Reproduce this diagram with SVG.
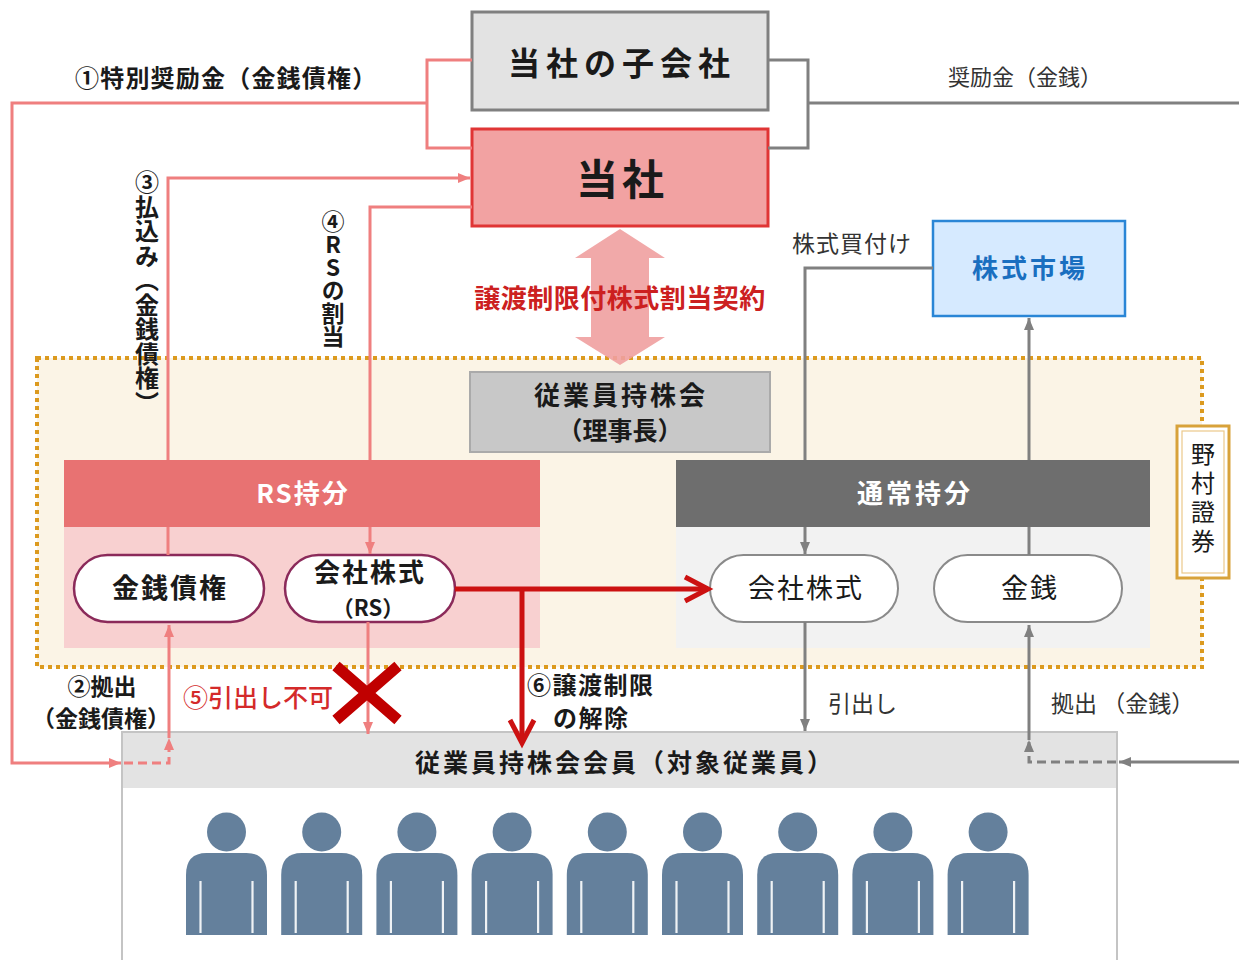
<svg xmlns="http://www.w3.org/2000/svg" width="1239" height="960" viewBox="0 0 1239 960">
<style>
text{font-family:"Noto Sans CJK JP","Noto Sans",sans-serif;fill:#1a1a1a}
.b{font-weight:bold}
.lbl{fill:#333}
.pk{fill:none;stroke:#ef7f7f;stroke-width:3}
.gy{fill:none;stroke:#808080;stroke-width:3}
.dash{stroke-dasharray:9 5}
.red{fill:none;stroke:#cc1111;stroke-width:5}
.pillrs{fill:#fff;stroke:#8b2a5a;stroke-width:2.5}
.pilln{fill:#fff;stroke:#8a8a8a;stroke-width:2}
.wt{fill:#fff;font-weight:bold}
.vt{writing-mode:vertical-rl}
</style>
<defs>
<marker id="ap" markerUnits="userSpaceOnUse" markerWidth="12" markerHeight="10" viewBox="0 0 12 10" refX="12" refY="5" orient="auto"><path d="M0,0 L12,5 L0,10 z" fill="#ef7f7f"/></marker>
<marker id="ag" markerUnits="userSpaceOnUse" markerWidth="12" markerHeight="10" viewBox="0 0 12 10" refX="12" refY="5" orient="auto"><path d="M0,0 L12,5 L0,10 z" fill="#808080"/></marker>
<marker id="ar" markerUnits="userSpaceOnUse" markerWidth="34" markerHeight="34" viewBox="0 0 34 34" refX="27" refY="17" orient="auto" overflow="visible"><path d="M4,5 L27,17 L4,29" fill="none" stroke="#cc1111" stroke-width="5"/></marker>
<g id="person">
<circle cx="0" cy="-21" r="19.5" fill="#64809c"/>
<path d="M-40.5,82 V22 Q-40.5,0 -20,0 H20 Q40.5,0 40.5,22 V82 Z" fill="#64809c"/>
<path d="M-26,28 V80 M26,28 V80" stroke="#fff" stroke-width="2.2" opacity="0.9"/>
</g>
</defs>
<rect width="1239" height="960" fill="#fff"/>

<g id="container-nomura">
<rect x="37" y="358" width="1165" height="309" fill="#fbf4e6" stroke="#dc9a1e" stroke-width="4" stroke-dasharray="4 4"/>
</g>

<g id="node-subsidiary">
<rect x="472" y="12" width="296" height="98" fill="#e3e3e3" stroke="#808080" stroke-width="3"/>
<text x="622" y="75" font-size="32" text-anchor="middle" letter-spacing="6" class="b">当社の子会社</text>
</g>

<g id="node-company">
<rect x="472" y="129" width="296" height="97" fill="#f2a2a2" stroke="#e03535" stroke-width="3"/>
<text x="622" y="195" font-size="42" text-anchor="middle" letter-spacing="4" class="b">当社</text>
</g>

<g id="node-market">
<rect x="933" y="221" width="192" height="95" fill="#d6eaff" stroke="#2a86d6" stroke-width="2.5"/>
<text x="1030" y="278" font-size="26" text-anchor="middle" letter-spacing="3" class="b" style="fill:#1a6fc0">株式市場</text>
</g>

<g id="node-esop">
<rect x="470" y="372" width="300" height="80" fill="#c8c8c8" stroke="#aaaaaa" stroke-width="2"/>
<text x="621" y="405" font-size="26" text-anchor="middle" letter-spacing="3" class="b">従業員持株会</text>
<text x="620" y="440" font-size="25" text-anchor="middle" class="b">（理事長）</text>
</g>

<g id="node-rs-share">
<rect x="64" y="527" width="476" height="121" fill="#f8d0d0"/>
<rect x="64" y="460" width="476" height="67" fill="#e87272"/>
<text x="303" y="503" font-size="26" text-anchor="middle" letter-spacing="2" class="wt">RS持分</text>
</g>

<g id="node-normal-share">
<rect x="676" y="527" width="474" height="121" fill="#f2f2f2"/>
<rect x="676" y="460" width="474" height="67" fill="#6e6e6e"/>
<text x="915" y="503" font-size="26" text-anchor="middle" letter-spacing="3" class="wt">通常持分</text>
</g>

<g id="node-rs-money">
<rect x="74" y="555" width="190" height="67" rx="33.5" class="pillrs"/>
<text x="170" y="598" font-size="27" text-anchor="middle" letter-spacing="2" class="b">金銭債権</text>
</g>

<g id="node-rs-stock">
<rect x="285" y="555" width="170" height="67" rx="33.5" class="pillrs"/>
<text x="370" y="582" font-size="26" text-anchor="middle" letter-spacing="2" class="b">会社株式</text>
<text x="368" y="616" font-size="22" text-anchor="middle" class="b">（RS）</text>
</g>

<g id="node-normal-stock">
<rect x="710" y="555" width="188" height="67" rx="33.5" class="pilln"/>
<text x="806" y="598" font-size="27" text-anchor="middle" letter-spacing="2">会社株式</text>
</g>

<g id="node-normal-money">
<rect x="934" y="555" width="188" height="67" rx="33.5" class="pilln"/>
<text x="1030" y="598" font-size="27" text-anchor="middle" letter-spacing="2">金銭</text>
</g>

<g id="node-nomura">
<rect x="1177" y="426" width="52" height="152" fill="#fff" stroke="#d8a23a" stroke-width="3"/>
<rect x="1182" y="431" width="42" height="142" fill="none" stroke="#ecc98a" stroke-width="1.2"/>
<text x="1203" y="442" font-size="24" letter-spacing="5" class="vt">野村證券</text>
</g>

<g id="node-members">
<rect x="122" y="732" width="995" height="240" fill="#fff" stroke="#c4c4c4" stroke-width="2"/>
<rect x="123" y="733" width="993" height="55" fill="#e3e3e3"/>
<text x="625" y="772" font-size="25" text-anchor="middle" letter-spacing="3" class="b">従業員持株会会員（対象従業員）</text>
<use href="#person" x="226.5" y="853"/>
<use href="#person" x="321.7" y="853"/>
<use href="#person" x="416.9" y="853"/>
<use href="#person" x="512.1" y="853"/>
<use href="#person" x="607.3" y="853"/>
<use href="#person" x="702.5" y="853"/>
<use href="#person" x="797.7" y="853"/>
<use href="#person" x="892.9" y="853"/>
<use href="#person" x="988.1" y="853"/>
</g>

<g id="connectors">
<polygon points="620,229 665,258 649,258 649,337 665,337 620,365 575,337 591,337 591,258 575,258" fill="#f0a0a0" opacity="0.9"/>
<path class="pk" d="M472,60 H427 V148 H472 M427,103 H12 V763 H121" marker-end="url(#ap)"/>
<path class="pk dash" d="M124,763 H169 V738" marker-end="url(#ap)"/>
<path class="pk" d="M169,738 V625" marker-end="url(#ap)"/>
<path class="pk" d="M168,555 V527 M168,460 V178 H470" marker-end="url(#ap)"/>
<path class="pk" d="M472,207 H370 V460 M370,527 V554" marker-end="url(#ap)"/>
<path class="pk" d="M368,622 V734" marker-end="url(#ap)"/>
<path class="gy" d="M768,60 H808 V148 H768 M808,103 H1239"/>
<path class="gy" d="M933,268 H805 V460 M805,527 V554" marker-end="url(#ag)"/>
<path class="gy" d="M1029,555 V527 M1029,460 V318" marker-end="url(#ag)"/>
<path class="gy" d="M805,622 V731" marker-end="url(#ag)"/>
<path class="gy" d="M1239,762 H1119" marker-end="url(#ag)"/>
<path class="gy dash" d="M1116,762 H1029 V740" marker-end="url(#ag)"/>
<path class="gy" d="M1029,740 V625" marker-end="url(#ag)"/>
<path class="red" d="M455,589 H708" marker-end="url(#ar)"/>
<path class="red" d="M522,589 V743" marker-end="url(#ar)"/>
</g>

<g id="block-mark">
<path d="M336,666 L398,720 M398,666 L336,720" stroke="#c00000" stroke-width="11" fill="none"/>
</g>

<g id="labels">
<text x="75" y="87" font-size="24" letter-spacing="1.2" class="b">①特別奨励金（金銭債権）</text>
<text x="948" y="85" font-size="22" class="lbl">奨励金（金銭）</text>
<text x="147" y="170" font-size="24" letter-spacing="0.5" class="b vt">③払込み（金銭債権）</text>
<text x="333" y="210" font-size="23" class="b vt" style="text-orientation:upright">④RSの割当</text>
<text x="620" y="308" font-size="26" text-anchor="middle" letter-spacing="0.5" class="b" style="fill:#cc2020">譲渡制限付株式割当契約</text>
<text x="792" y="252" font-size="23" letter-spacing="1" class="lbl">株式買付け</text>
<text x="102" y="695" font-size="23" text-anchor="middle" class="b">②拠出</text>
<text x="101" y="727" font-size="23" text-anchor="middle" class="b">（金銭債権）</text>
<text x="183" y="707" font-size="25" style="fill:#d42a2a;font-weight:500">⑤引出し不可</text>
<text x="527" y="694" font-size="24" letter-spacing="1.5" class="b">⑥譲渡制限</text>
<text x="553" y="727" font-size="24" letter-spacing="1.5" class="b">の解除</text>
<text x="828" y="712" font-size="23" class="lbl">引出し</text>
<text x="1051" y="712" font-size="23" class="lbl">拠出 （金銭）</text>
</g>
</svg>
